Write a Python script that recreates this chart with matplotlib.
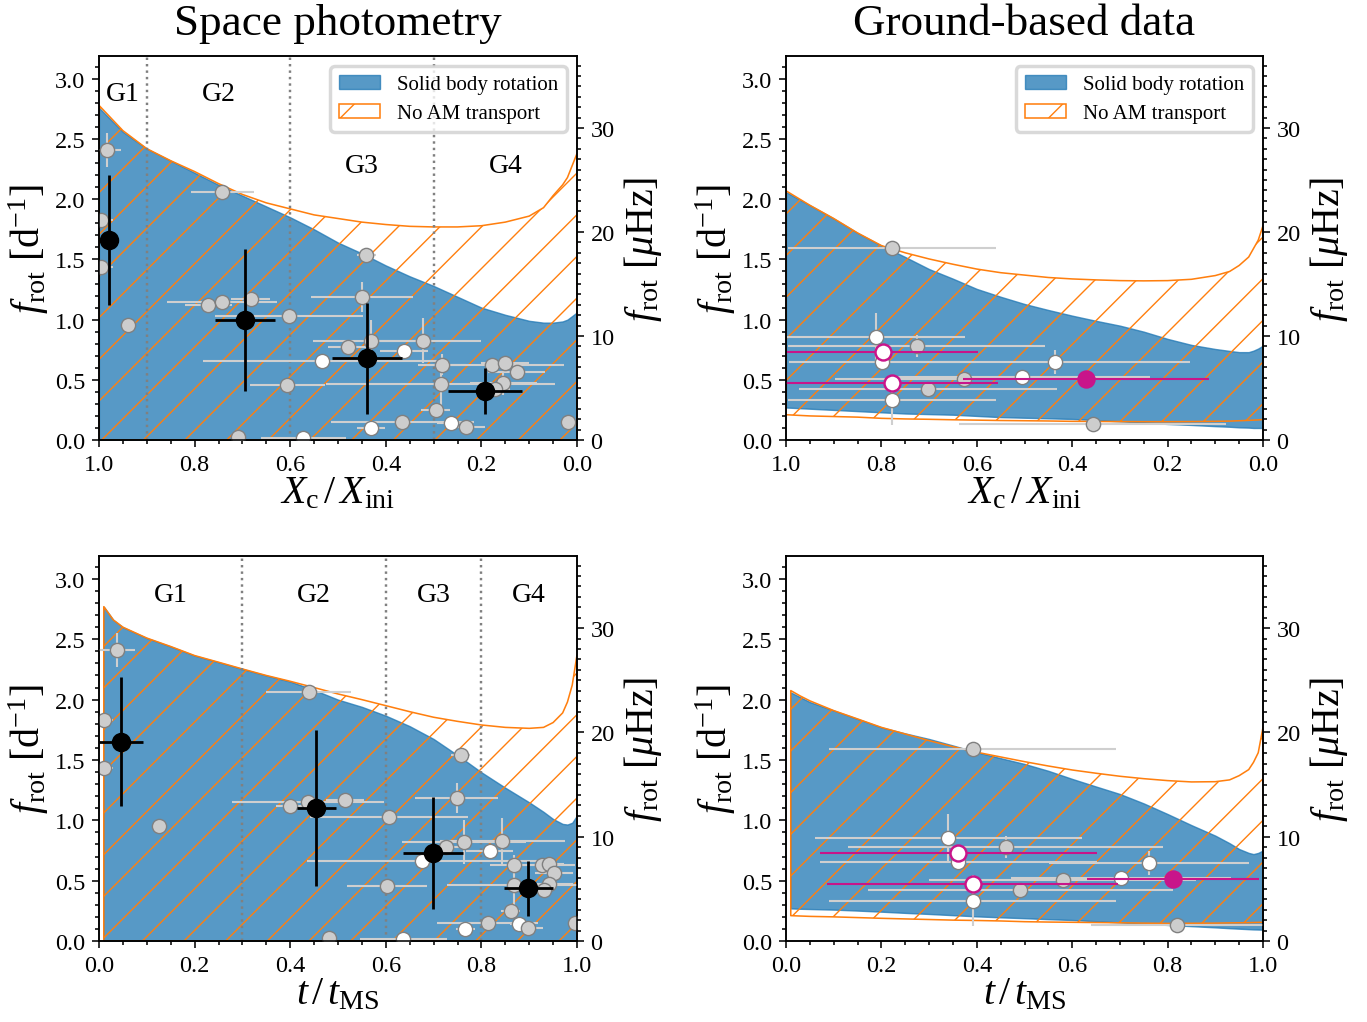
import numpy as np
import matplotlib
matplotlib.use("Agg")
import matplotlib.pyplot as plt
from matplotlib.ticker import MultipleLocator, FormatStrFormatter

plt.rcParams['font.family'] = ['serif']
plt.rcParams['font.serif'] = ['Liberation Serif', 'DejaVu Serif']
plt.rcParams['mathtext.fontset'] = 'custom'
plt.rcParams['mathtext.rm'] = 'Liberation Serif'
plt.rcParams['mathtext.it'] = 'Liberation Serif:italic'
plt.rcParams['mathtext.bf'] = 'Liberation Serif:bold'
plt.rcParams['hatch.linewidth'] = 0.4
plt.rcParams['axes.linewidth'] = 0.45

MUHZ_PER_D = 11.574

# ---------------- model curves ----------------
# Space photometry, x = Xc/Xini
xc_grid = [1.0, 0.95, 0.9, 0.85, 0.8, 0.75, 0.7, 0.65, 0.6, 0.55, 0.5, 0.45, 0.4,
           0.35, 0.3, 0.25, 0.2, 0.15, 0.1, 0.07, 0.05, 0.03, 0.02, 0.01, 0.0]
sp_xc_noam_up = [2.78, 2.57, 2.42, 2.32, 2.23, 2.13, 2.04, 1.97, 1.92, 1.87, 1.84, 1.81, 1.79,
                 1.775, 1.77, 1.77, 1.78, 1.81, 1.86, 1.93, 2.03, 2.12, 2.18, 2.28, 2.38]
sp_xc_sb_up = [2.76, 2.56, 2.42, 2.32, 2.22, 2.12, 2.03, 1.94, 1.85, 1.75, 1.64, 1.55, 1.45,
               1.36, 1.28, 1.19, 1.10, 1.04, 0.99, 0.975, 0.975, 0.985, 1.0, 1.03, 1.06]

# Space photometry, x = t/tMS
t_grid = [0.01, 0.03, 0.05, 0.1, 0.15, 0.2, 0.25, 0.3, 0.35, 0.4, 0.45, 0.5, 0.55,
          0.6, 0.65, 0.7, 0.75, 0.8, 0.85, 0.9, 0.93, 0.95, 0.97, 0.98, 0.99, 1.0]
sp_t_noam_up = [2.77, 2.66, 2.60, 2.51, 2.44, 2.365, 2.31, 2.254, 2.20, 2.152, 2.10, 2.047, 2.0,
                1.95, 1.90, 1.854, 1.82, 1.79, 1.77, 1.762, 1.77, 1.81, 1.89, 1.98, 2.12, 2.37]
sp_t_sb_up = [2.77, 2.66, 2.60, 2.51, 2.44, 2.365, 2.31, 2.254, 2.20, 2.15, 2.08, 2.0, 1.94,
              1.867, 1.78, 1.674, 1.54, 1.398, 1.27, 1.149, 1.07, 1.011, 0.97, 0.965, 0.98, 1.04]

# Ground-based, x = Xc/Xini
gr_xc_noam_up = [2.07, 1.95, 1.84, 1.72, 1.615, 1.555, 1.504, 1.46, 1.42, 1.39, 1.37, 1.35, 1.338,
                 1.33, 1.324, 1.322, 1.324, 1.335, 1.366, 1.40, 1.45, 1.52, 1.59, 1.66, 1.78]
gr_xc_noam_lo = [0.21, 0.20, 0.195, 0.19, 0.18, 0.175, 0.172, 0.168, 0.165, 0.162, 0.16, 0.158, 0.155,
                 0.154, 0.153, 0.152, 0.152, 0.153, 0.155, 0.157, 0.16, 0.163, 0.165, 0.167, 0.17]
gr_xc_sb_up = [2.06, 1.95, 1.84, 1.72, 1.615, 1.52, 1.42, 1.34, 1.255, 1.19, 1.13, 1.08, 1.033,
               0.99, 0.95, 0.90, 0.84, 0.79, 0.756, 0.74, 0.73, 0.73, 0.742, 0.76, 0.784]
gr_xc_sb_lo = [0.27, 0.26, 0.25, 0.24, 0.23, 0.22, 0.215, 0.21, 0.20, 0.19, 0.185, 0.18, 0.175,
               0.165, 0.155, 0.145, 0.133, 0.125, 0.115, 0.11, 0.105, 0.103, 0.10, 0.10, 0.10]

# Ground-based, x = t/tMS
gr_t_noam_up = [2.075, 2.03, 1.99, 1.909, 1.84, 1.77, 1.715, 1.66, 1.61, 1.564, 1.525, 1.486, 1.45,
                1.417, 1.39, 1.365, 1.345, 1.329, 1.318, 1.32, 1.335, 1.37, 1.42, 1.48, 1.56, 1.77]
gr_t_noam_lo = [0.21, 0.207, 0.204, 0.20, 0.194, 0.188, 0.183, 0.178, 0.173, 0.17, 0.166, 0.16, 0.157,
                0.155, 0.153, 0.151, 0.148, 0.146, 0.147, 0.148, 0.15, 0.151, 0.152, 0.153, 0.154, 0.155]
gr_t_sb_up = [2.06, 2.02, 1.98, 1.91, 1.84, 1.77, 1.72, 1.674, 1.62, 1.564, 1.515, 1.467, 1.41,
              1.343, 1.28, 1.218, 1.14, 1.052, 0.96, 0.873, 0.81, 0.762, 0.73, 0.72, 0.73, 0.75]
gr_t_sb_lo = [0.27, 0.267, 0.265, 0.26, 0.252, 0.243, 0.233, 0.224, 0.214, 0.204, 0.196, 0.189, 0.181,
              0.174, 0.164, 0.154, 0.143, 0.133, 0.123, 0.113, 0.106, 0.102, 0.098, 0.096, 0.095, 0.094]

# ---------------- observed stars ----------------
# Space photometry sample
space_frot = [2.41, 1.83, 1.435, 0.955, 2.06, 1.12, 1.15, 1.17, 1.03, 0.457, 0.022, 0.014, 0.66,
              0.776, 1.185, 1.54, 0.82, 0.742, 0.826, 0.626, 0.466, 0.25, 0.10, 0.147, 0.139,
              0.105, 0.626, 0.637, 0.563, 0.47, 0.424, 0.147]
space_frot_err = [0.14, 0.03, 0.03, 0.0, 0.02, 0.03, 0.03, 0.03, 0.02, 0.02, 0.0, 0.0, 0.02,
                  0.03, 0.125, 0.02, 0.18, 0.02, 0.19, 0.09, 0.18, 0.03, 0.06, 0.02, 0.02,
                  0.02, 0.03, 0.03, 0.03, 0.10, 0.03, 0.02]
space_xc = [0.984, 0.996, 0.996, 0.939, 0.742, 0.771, 0.742, 0.683, 0.6025, 0.606, 0.709, 0.573,
            0.533, 0.48, 0.45, 0.441, 0.432, 0.362, 0.3215, 0.282, 0.285, 0.296, 0.431, 0.3655,
            0.2636, 0.233, 0.178, 0.151, 0.126, 0.154, 0.171, 0.0195]
space_xc_err = [0.03, 0.025, 0.025, 0.0, 0.066, 0.05, 0.115, 0.04, 0.155, 0.078, 0.0, 0.089,
                0.25, 0.04, 0.107, 0.02, 0.12, 0.05, 0.12, 0.05, 0.24, 0.03, 0.03, 0.15,
                0.03, 0.04, 0.15, 0.05, 0.06, 0.07, 0.03, 0.0]
space_t = [0.038, 0.01, 0.01, 0.126, 0.439, 0.40, 0.438, 0.515, 0.607, 0.602, 0.481, 0.637,
           0.676, 0.725, 0.748, 0.757, 0.764, 0.817, 0.844, 0.868, 0.868, 0.861, 0.766, 0.813,
           0.879, 0.898, 0.926, 0.942, 0.952, 0.942, 0.931, 0.996]
space_t_err = [0.038, 0.02, 0.02, 0.0, 0.089, 0.03, 0.159, 0.04, 0.166, 0.084, 0.0, 0.09,
               0.24, 0.03, 0.087, 0.02, 0.13, 0.05, 0.13, 0.05, 0.141, 0.02, 0.02, 0.105,
               0.02, 0.03, 0.07, 0.03, 0.04, 0.05, 0.02, 0.0]
space_kind = ['g', 'g', 'g', 'g', 'g', 'g', 'g', 'g', 'g', 'g', 'g', 'w', 'w', 'g', 'g', 'g',
              'g', 'w', 'g', 'g', 'g', 'g', 'w', 'g', 'w', 'g', 'g', 'g', 'g', 'g', 'g', 'g']

# group averages
grp_xc = [0.98, 0.695, 0.44, 0.1925]
grp_xc_err = [0.018, 0.063, 0.073, 0.078]
grp_frot_xc = [1.66, 1.00, 0.68, 0.41]
grp_frot_xc_err = [0.54, 0.59, 0.46, 0.19]
grp_t = [0.046, 0.455, 0.698, 0.898]
grp_t_err = [0.046, 0.04, 0.063, 0.051]
grp_frot_t = [1.652, 1.10, 0.729, 0.436]
grp_frot_t_err = [0.535, 0.645, 0.465, 0.225]

groups = ['G1', 'G2', 'G3', 'G4']
grp_bounds_xc = [0.9, 0.6, 0.3]
grp_label_xc = [0.95, 0.75, 0.45, 0.15]
grp_label_xc_y = [2.88, 2.88, 2.28, 2.28]
grp_bounds_t = [0.3, 0.6, 0.8]
grp_label_t = [0.15, 0.45, 0.70, 0.90]
grp_label_t_y = [2.875, 2.875, 2.875, 2.875]

# Ground-based sample
ground_frot = [1.593, 0.853, 0.73, 0.651, 0.78, 0.471, 0.333, 0.42, 0.507, 0.523, 0.645, 0.51, 0.135]
ground_frot_err = [0.02, 0.2, 0.0, 0.02, 0.09, 0.0, 0.21, 0.02, 0.02, 0.02, 0.1, 0.0, 0.02]
ground_xc = [0.777, 0.811, 0.797, 0.798, 0.726, 0.777, 0.777, 0.702, 0.627, 0.506, 0.436, 0.371, 0.357]
ground_xc_err = [0.218, 0.187, 0.2, 0.196, 0.269, 0.222, 0.218, 0.27, 0.27, 0.27, 0.284, 0.257, 0.28]
ground_t = [0.391, 0.340, 0.361, 0.361, 0.461, 0.391, 0.391, 0.491, 0.58, 0.702, 0.761, 0.811, 0.82]
ground_t_err = [0.30, 0.28, 0.29, 0.29, 0.33, 0.306, 0.30, 0.32, 0.28, 0.23, 0.21, 0.18, 0.18]
ground_kind = ['g', 'w', 'mo', 'w', 'g', 'mo', 'w', 'g', 'g', 'w', 'w', 'mf', 'g']

# ---------------- styling ----------------
C_BLUE = 'tab:blue'
C_ORANGE = 'tab:orange'
C_ERR = '#cfcfcf'
C_GREY = '#cdcdcd'
C_EDGE = '#808080'
C_MAG = '#c8158a'
YMAX = 3.19
TICK_FS = 7.0
LABEL_FS = 11.5

fig = plt.figure(figsize=(1367 / 250, 1023 / 250), dpi=250)
W, H = 1367.0, 1023.0


def add_ax(x0, x1, y0, y1):
    return fig.add_axes([x0 / W, 1 - y1 / H, (x1 - x0) / W, (y1 - y0) / H])


def style_axes(ax, xlabel):
    ax.set_ylim(0, YMAX)
    ax.yaxis.set_major_locator(MultipleLocator(0.5))
    ax.yaxis.set_minor_locator(MultipleLocator(0.1))
    ax.yaxis.set_major_formatter(FormatStrFormatter('%.1f'))
    ax.xaxis.set_major_locator(MultipleLocator(0.2))
    ax.xaxis.set_minor_locator(MultipleLocator(0.05))
    ax.xaxis.set_major_formatter(FormatStrFormatter('%.1f'))
    ax.tick_params(which='both', direction='out', width=0.45, labelsize=TICK_FS, pad=2.0,
                   top=False, right=False)
    ax.tick_params(which='major', length=1.9)
    ax.tick_params(which='minor', length=1.1)
    ax.set_xlabel(xlabel, fontsize=LABEL_FS, labelpad=0)
    ax.set_ylabel(r'$f_{\rm rot}$ [d$^{-1}$]', fontsize=LABEL_FS, labelpad=1)
    ax2 = ax.twinx()
    ax2.set_ylim(0, YMAX * MUHZ_PER_D)
    ax2.yaxis.set_major_locator(MultipleLocator(10))
    ax2.yaxis.set_minor_locator(MultipleLocator(1))
    ax2.tick_params(which='both', direction='out', width=0.45, labelsize=TICK_FS, pad=2.0)
    ax2.tick_params(which='major', length=1.9)
    ax2.tick_params(which='minor', length=1.1)
    ax2.set_ylabel(r'$f_{\rm rot}$ [$\mu$Hz]', fontsize=LABEL_FS, labelpad=2)
    return ax2


def draw_models(ax, x, sb_lo, sb_up, na_lo, na_up):
    ax.fill_between(x, sb_lo, sb_up, color=C_BLUE, alpha=0.75, lw=0.4,
                    label='Solid body rotation', zorder=1)
    ax.fill_between(x, na_lo, na_up, facecolor='none', edgecolor=C_ORANGE, hatch='//',
                    lw=0.45, label='No AM transport', zorder=2)


def draw_stars(ax, xs, xerrs, ys, yerrs, kinds):
    for x, xe, y, ye, k in zip(xs, xerrs, ys, yerrs, kinds):
        if k == 'mo' or k == 'mf':
            ax.errorbar(x, y, xerr=xe, yerr=ye if ye > 0 else None, fmt='none',
                        ecolor=C_MAG, elinewidth=0.6, capsize=0, zorder=5)
            ax.plot(x, y, 'o', ms=4.6, mfc='white' if k == 'mo' else C_MAG,
                    mec=C_MAG, mew=0.7, zorder=6)
        else:
            ax.errorbar(x, y, xerr=xe if xe > 0 else None, yerr=ye if ye > 0 else None,
                        fmt='none', ecolor=C_ERR, elinewidth=0.6, capsize=0, zorder=3)
            ax.plot(x, y, 'o', ms=4.1, mfc=C_GREY if k == 'g' else 'white',
                    mec=C_EDGE, mew=0.4, zorder=4)


def draw_groups(ax, xs, xerrs, ys, yerrs):
    ax.errorbar(xs, ys, xerr=xerrs, yerr=yerrs, fmt='o', color='black', ms=4.6,
                elinewidth=0.8, capsize=0, zorder=7)


def add_legend(ax):
    ax.legend(loc='upper right', fontsize=6.0, framealpha=0.8, edgecolor='#d0d0d0',
              borderpad=0.4, handlelength=2.0, labelspacing=0.45)


# ---- top-left
ax = add_ax(99, 577, 57, 441)
draw_models(ax, xc_grid, [0.0] * len(xc_grid), sp_xc_sb_up, [0.0] * len(xc_grid), sp_xc_noam_up)
for b in grp_bounds_xc:
    ax.axvline(b, color='grey', ls=':', lw=0.7, zorder=2.5)
for g, gx, gy in zip(groups, grp_label_xc, grp_label_xc_y):
    ax.text(gx, gy, g, ha='center', va='center', fontsize=8)
draw_stars(ax, space_xc, space_xc_err, space_frot, space_frot_err, space_kind)
draw_groups(ax, grp_xc, grp_xc_err, grp_frot_xc, grp_frot_xc_err)
ax.set_xlim(1.0, 0.0)
style_axes(ax, r'$X_{\rm c}\,/\,X_{\rm ini}$')
add_legend(ax)
ax.set_title('Space photometry', fontsize=13, pad=6.2)

# ---- top-right
ax = add_ax(786, 1263, 57, 441)
draw_models(ax, xc_grid, gr_xc_sb_lo, gr_xc_sb_up, gr_xc_noam_lo, gr_xc_noam_up)
draw_stars(ax, ground_xc, ground_xc_err, ground_frot, ground_frot_err, ground_kind)
ax.set_xlim(1.0, 0.0)
style_axes(ax, r'$X_{\rm c}\,/\,X_{\rm ini}$')
add_legend(ax)
ax.set_title('Ground-based data', fontsize=13, pad=6.2)

# ---- bottom-left
ax = add_ax(99, 577, 557, 942)
draw_models(ax, t_grid, [0.0] * len(t_grid), sp_t_sb_up, [0.0] * len(t_grid), sp_t_noam_up)
for b in grp_bounds_t:
    ax.axvline(b, color='grey', ls=':', lw=0.7, zorder=2.5)
for g, gx, gy in zip(groups, grp_label_t, grp_label_t_y):
    ax.text(gx, gy, g, ha='center', va='center', fontsize=8)
draw_stars(ax, space_t, space_t_err, space_frot, space_frot_err, space_kind)
draw_groups(ax, grp_t, grp_t_err, grp_frot_t, grp_frot_t_err)
ax.set_xlim(0.0, 1.0)
style_axes(ax, r'$t\,/\,t_{\rm MS}$')

# ---- bottom-right
ax = add_ax(786, 1263, 557, 942)
draw_models(ax, t_grid, gr_t_sb_lo, gr_t_sb_up, gr_t_noam_lo, gr_t_noam_up)
draw_stars(ax, ground_t, ground_t_err, ground_frot, ground_frot_err, ground_kind)
ax.set_xlim(0.0, 1.0)
style_axes(ax, r'$t\,/\,t_{\rm MS}$')

fig.savefig('out.png', dpi=250)
